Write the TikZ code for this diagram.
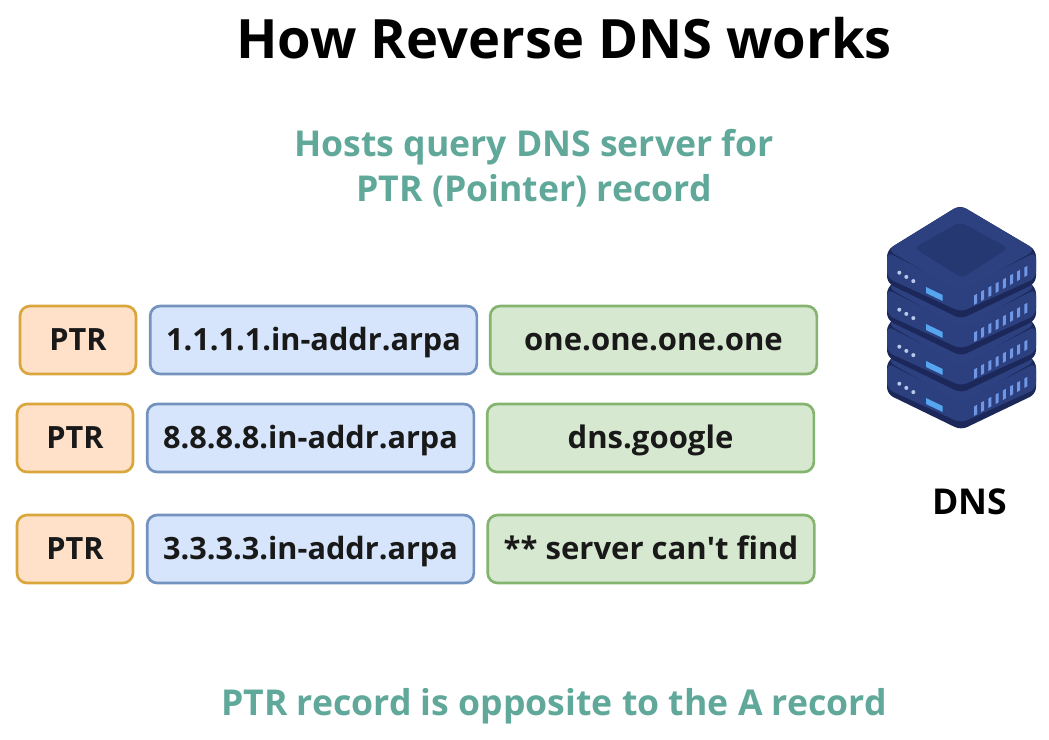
\documentclass[tikz,border=0pt]{standalone}
\usepackage{fontspec}
\setmainfont{Open Sans}
\definecolor{ptrfill}{HTML}{FFE0C8}
\definecolor{ptrline}{HTML}{D9A63C}
\definecolor{addrfill}{HTML}{D6E5FB}
\definecolor{addrline}{HTML}{7392BE}
\definecolor{namefill}{HTML}{D6E8D0}
\definecolor{nameline}{HTML}{84B46E}
\definecolor{teal}{HTML}{60A899}
\definecolor{srvside}{HTML}{2C3F7E}
\definecolor{srvtop}{HTML}{2D4080}
\definecolor{srvinner}{HTML}{263872}
\definecolor{srvdark}{HTML}{1B2859}
\definecolor{srvbar}{HTML}{7096E6}
\definecolor{srvled}{HTML}{55A6EE}
\definecolor{srvdot}{HTML}{B9C9EA}
\tikzset{
  rec/.style={draw,line width=2pt,rounded corners=7.5pt,minimum height=51pt,font=\bfseries\fontsize{23}{27}\selectfont,text=black!90,inner sep=0pt,text height=21pt,text depth=5pt},
  ptr/.style={rec,fill=ptrfill,draw=ptrline,minimum width=87pt},
  addr/.style={rec,fill=addrfill,draw=addrline,minimum width=245pt},
  hostname/.style={rec,fill=namefill,draw=nameline,minimum width=245pt,font=\bfseries\fontsize{23.3}{27}\selectfont},
  heading/.style={font=\bfseries\fontsize{40.7}{46}\selectfont,anchor=base},
  note/.style={font=\bfseries\fontsize{26.7}{31}\selectfont,text=teal,anchor=base},
}
\begin{document}
\begin{tikzpicture}[x=0.75pt,y=-0.75pt]
\useasboundingbox (0,0) rectangle (1049,739);
\node[heading] (title) at (564,58) {How Reverse DNS works};
\node[note] (query1) at (534,156) {Hosts query DNS server for};
\node[note] (query2) at (534,201) {PTR (Pointer) record};
\node[note] (opposite) at (554,715) {PTR record is opposite to the A record};
% rows
\node[ptr] (ptr1) at (78,340) {PTR};
\node[addr] (addr1) at (313.5,340) {1.1.1.1.in-addr.arpa};
\node[hostname] (name1) at (653.5,340) {one.one.one.one};
\node[ptr] (ptr2) at (75,438) {PTR};
\node[addr] (addr2) at (310.5,438) {8.8.8.8.in-addr.arpa};
\node[hostname] (name2) at (650.5,438) {dns.google};
\node[ptr] (ptr3) at (75,549) {PTR};
\node[addr] (addr3) at (310.5,549) {3.3.3.3.in-addr.arpa};
\node[hostname] (name3) at (651,549) {** server can\textquotesingle t find};
% server
\foreach \dy in {111,74,37,0} {
\begin{scope}[shift={(0,\dy)}]
\fill[srvdark,rounded corners=5pt] (960,205) -- (1036,250) -- (1036,283) -- (961,319) -- (887,283) -- (887,250) -- cycle;
\fill[srvside,rounded corners=5pt] (887,252) -- (887,278) -- (961,312) -- (1036,278) -- (1036,252) -- (961,290) -- cycle;
\fill[srvtop,rounded corners=6pt] (960,205) -- (1036,250) -- (961,292) -- (887,250) -- cycle;
\foreach \i in {0,1,2} \fill[srvdot] (899.3+\i*7,272.7+\i*4.2) circle[radius=2];
\fill[srvled] (926,287) -- (942.7,295) -- (942.7,301) -- (926,293) -- cycle;
\foreach \i in {0,...,7} \fill[srvbar] (974+\i*7.2,305-\i*4) -- ++(3,-1.7) -- ++(0,-9.5) -- ++(-3,1.7) -- cycle;
\end{scope}
}
\fill[srvinner,rounded corners=4pt] (960,222) -- (1008,248) -- (962,278) -- (914,248) -- cycle;
\node[font=\bfseries\fontsize{26.7}{31}\selectfont,anchor=base] (dns) at (970,514) {DNS};
\end{tikzpicture}
\end{document}
